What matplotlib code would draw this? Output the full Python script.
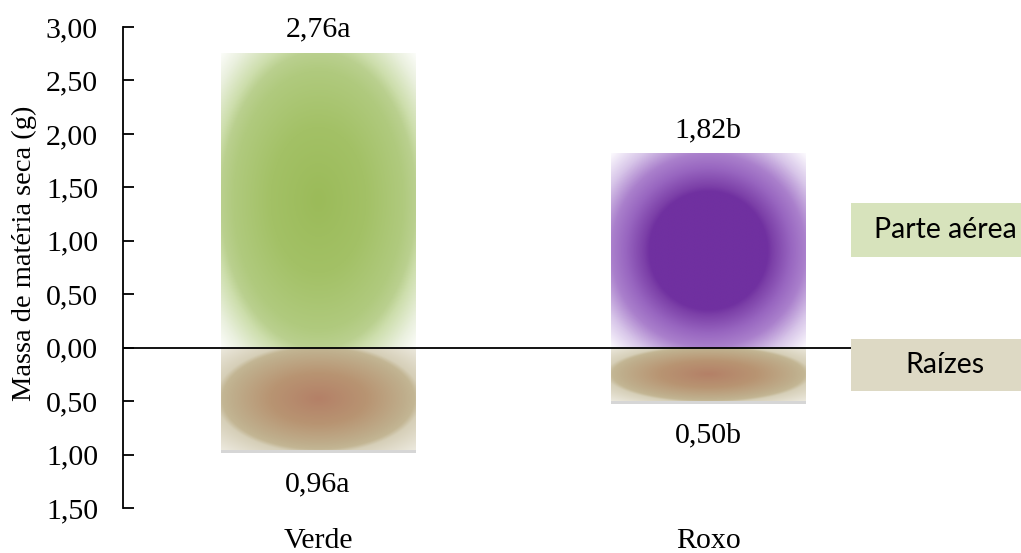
import numpy as np
import matplotlib
matplotlib.use("Agg")
import matplotlib.pyplot as plt
from matplotlib.colors import LinearSegmentedColormap
from matplotlib.ticker import FuncFormatter, MultipleLocator
from matplotlib.transforms import blended_transform_factory
import matplotlib.patheffects as pe

categories = ["Verde", "Roxo"]
parte_aerea = [2.76, 1.82]
raizes = [0.96, 0.50]
letras_aerea = ["a", "b"]
letras_raizes = ["a", "b"]
legend_labels = ["Parte aérea", "Raízes"]

W, H = 1021, 553
fig = plt.figure(figsize=(W / 100, H / 100), dpi=100)
ax = fig.add_axes([123 / W, (H - 508) / H, 780 / W, 481 / H])

serif = "Liberation Serif"
FS = 21.5
x = np.arange(len(categories))
bw = 0.5

def c(r, g, b):
    return (r / 255, g / 255, b / 255)

# colormaps (value: radial distance / sqrt(2); 0.707 = edge midpoint, 1 = corner)
cmap_green = LinearSegmentedColormap.from_list("g", [
    (0.0, c(155, 187, 89)), (0.35, c(163, 193, 102)), (0.62, c(176, 202, 126)),
    (0.71, c(186, 208, 143)), (0.77, c(205, 222, 172)), (0.90, c(234, 240, 222)),
    (1.0, c(252, 253, 250))])
cmap_purple = LinearSegmentedColormap.from_list("p", [
    (0.0, c(112, 48, 160)), (0.43, c(112, 48, 160)), (0.47, c(124, 64, 168)),
    (0.60, c(152, 102, 192)), (0.707, c(170, 128, 204)), (0.85, c(216, 198, 233)),
    (1.0, c(252, 250, 254))])
cmap_root = LinearSegmentedColormap.from_list("r", [
    (0.0, c(180, 128, 103)), (0.35, c(184, 148, 114)), (0.63, c(191, 174, 140)),
    (0.70, c(195, 182, 148)), (0.75, c(214, 207, 184)), (1.0, c(236, 233, 222))])

def gradient_fill(bar, cmap, zorder=2):
    bx, by = bar.get_x(), bar.get_y()
    bwid, bh = bar.get_width(), bar.get_height()
    n = 300
    u = np.linspace(-1, 1, n)
    X, Y = np.meshgrid(u, u)
    R = np.sqrt(X ** 2 + Y ** 2) / np.sqrt(2)
    img = ax.imshow(R, cmap=cmap, vmin=0, vmax=1, extent=[bx, bx + bwid, by, by + bh],
                    aspect="auto", origin="lower", zorder=zorder, interpolation="bilinear")
    img.set_clip_path(bar)

bars_top = ax.bar(x, parte_aerea, width=bw, color="white", edgecolor="none", zorder=1)
bars_bot = ax.bar(x, [-v for v in raizes], width=bw, color="white", edgecolor="none", zorder=1,
                  path_effects=[pe.SimplePatchShadow(offset=(0.5, -2), shadow_rgbFace=(0.55, 0.55, 0.55), alpha=0.35),
                                pe.Normal()])

for i, b in enumerate(bars_top):
    gradient_fill(b, cmap_green if i == 0 else cmap_purple)
for b in bars_bot:
    gradient_fill(b, cmap_root)

ax.axhline(0, color="black", lw=1.3, zorder=5)

ax.set_xlim(-0.5, 1.5)
ax.set_ylim(-1.5, 3.0)
ax.yaxis.set_major_locator(MultipleLocator(0.5))
ax.yaxis.set_major_formatter(FuncFormatter(lambda v, p: f"{abs(v):.2f}".replace(".", ",")))
for s in ["top", "right", "bottom"]:
    ax.spines[s].set_visible(False)
ax.spines["left"].set_linewidth(1.3)
ax.tick_params(axis="y", direction="in", length=8, width=1.3, labelsize=FS, pad=18)
ax.set_xticks([])
for lab in ax.get_yticklabels():
    lab.set_fontfamily(serif)
ax.set_ylabel("Massa de matéria seca (g)", fontsize=20.5, fontfamily=serif)
ax.yaxis.set_label_coords(-0.110, 0.53)

trans = blended_transform_factory(ax.transData, ax.transAxes)
for i in range(len(categories)):
    ax.annotate(f"{parte_aerea[i]:.2f}".replace(".", ",") + letras_aerea[i], (x[i], parte_aerea[i]),
                xytext=(0, 11.5), textcoords="offset points", ha="center", va="baseline",
                fontsize=FS, fontfamily=serif)
    ax.annotate(f"{raizes[i]:.2f}".replace(".", ",") + letras_raizes[i], (x[i], -raizes[i]),
                xytext=(0, -29.5), textcoords="offset points", ha="center", va="baseline",
                fontsize=FS, fontfamily=serif)
    ax.text(x[i], -0.0832, categories[i], transform=trans, ha="center",
            va="baseline", fontsize=FS, fontfamily=serif)

# legend boxes
def legend_box(y0, y1, color, label):
    fig.patches.append(plt.Rectangle((851 / W, 1 - y1 / H), (1021 - 851) / W, (y1 - y0) / H,
                                     transform=fig.transFigure, facecolor=color, edgecolor="none", zorder=10))
    fig.text(945 / W, 1 - (y0 + y1) / 2 / H, label, ha="center", va="center",
             fontsize=20.5, fontfamily="Lato", zorder=11)

legend_box(203, 257, c(215, 227, 188), legend_labels[0])
legend_box(339, 391, c(221, 217, 196), legend_labels[1])

fig.savefig("out.png", dpi=100)
